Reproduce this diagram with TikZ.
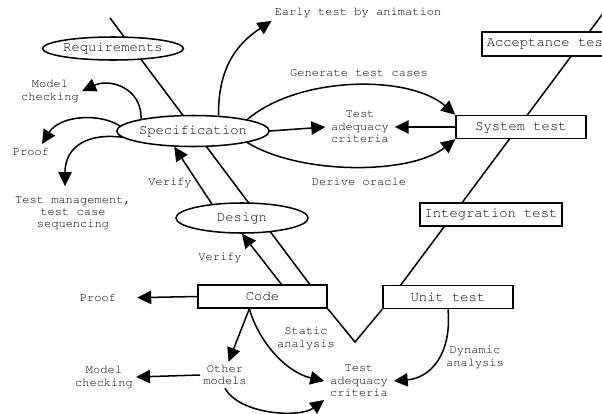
\documentclass[tikz,border=0pt]{standalone}
\usepackage[T1]{fontenc}
\usepackage{courier}
\usetikzlibrary{arrows.meta}
\usetikzlibrary{shapes.geometric}
\usetikzlibrary{calc}

\begin{document}
\begin{tikzpicture}[x=0.03cm,y=-0.03cm,line width=1.3pt,
		phase/.style={draw,ellipse,fill=white,inner sep=0pt,font=\ttfamily\fontsize{11.8}{14}\selectfont},
		stage/.style={draw,rectangle,fill=white,inner sep=0pt,minimum height=0.69cm,font=\ttfamily\fontsize{11.8}{14}\selectfont},
		note/.style={align=center,inner sep=2pt,font=\ttfamily\fontsize{10.3}{10.6}\selectfont},
		arw/.style={-{Triangle[length=0.42cm,width=0.4cm]}}]
			\useasboundingbox (0,0) rectangle (602,414);
			\clip (0,0) rectangle (602,414);
			\coordinate (vtl) at (110,18);
			\coordinate (vbl) at (311,286);
			\coordinate (vbot) at (355,342);
			\coordinate (vbr) at (400,286);
			\coordinate (vtr) at (613,0);
			\draw (vtl) -- (vbl);
			\draw (vbr) -- (vtr);
			\node[phase,minimum width=4.02cm,minimum height=0.69cm] (req) at (113,48.5) {Requirements};
			\node[phase,minimum width=3.9cm,minimum height=0.93cm] (spec) at (193,131) {Specification};
			\node[phase,minimum width=3.96cm,minimum height=0.9cm] (design) at (242,218) {Design};
			\node[stage,minimum width=3.87cm] (code) at (262.5,296.5) {Code};
			\node[stage,minimum width=3.9cm] (unit) at (448,297) {Unit test};
			\node[stage,minimum width=4.26cm] (integ) at (491,214.5) {Integration test};
			\node[stage,minimum width=3.9cm] (sys) at (521,127) {System test};
			\node[stage,anchor=west,inner xsep=0.15cm,minimum height=0.72cm] (accept) at (481,44) {Acceptance test};
			\draw (code.south east) -- (vbot) -- (unit.south west);
			\node[note] (early) at (358,13) {Early test by animation};
			\node[note] (gen) at (359,73) {Generate test cases};
			\node[note] (derive) at (359,182) {Derive oracle};
			\node[note,inner xsep=0.15cm] (crit1) at (360,127) {Test\\adequacy\\criteria};
			\node[note] (mc1) at (50,91) {Model\\checking};
			\node[note] (proof1) at (31,152) {Proof};
			\node[note] (tm) at (73,213) {Test management,\\test case\\sequencing};
			\node[note] (ver1) at (170,183) {Verify};
			\node[note] (ver2) at (220,258) {Verify};
			\node[note] (proof2) at (98,298) {Proof};
			\node[note] (om) at (225,375) {Other\\models};
			\node[note] (mc2) at (104,377) {Model\\checking};
			\node[note] (static) at (306,338) {Static\\analysis};
			\node[note,inner xsep=0.15cm] (crit2) at (359,381) {Test\\adequacy\\criteria};
			\node[note] (dyn) at (475,357) {Dynamic\\analysis};
			\draw[arw] (spec.31) .. controls (218,70) and (235,45) .. (early.south west);
			\draw[arw] (spec.12) .. controls (300,75) and (410,75) .. (sys.north west);
			\draw[arw] (spec.-12) .. controls (300,175) and (410,175) .. (sys.south west);
			\draw[arw] (spec.east) -- (crit1.west);
			\draw[arw] (sys.west) -- (crit1.east);
			\draw[arw] (spec.167) .. controls (142,88) and (110,78) .. (mc1.east);
			\draw[arw] (spec.176) .. controls (100,113) and (60,115) .. ($(proof1.north)+(11,-1)$);
			\draw[arw] (spec.185) .. controls (90,133) and (65,145) .. ($(tm.north)+(-8,-7)$);
			\draw[arw] (design.155) -- (spec.220);
			\draw[arw] (code.33) -- (design.south);
			\draw[arw,shorten >=0.54cm] (code.west) -- (proof2.east);
			\draw[arw] (code.223) -- (om.75);
			\draw[arw] (code.223) .. controls (258,340) and (285,372) .. (crit2.west);
			\draw[arw] (om.west) -- (mc2.east);
			\draw[arw] (om.south) .. controls (240,415) and (300,418) .. (crit2.south west);
			\draw[arw] (unit.south) .. controls (452,355) and (430,378) .. (crit2.east);
		\end{tikzpicture}
\end{document}
